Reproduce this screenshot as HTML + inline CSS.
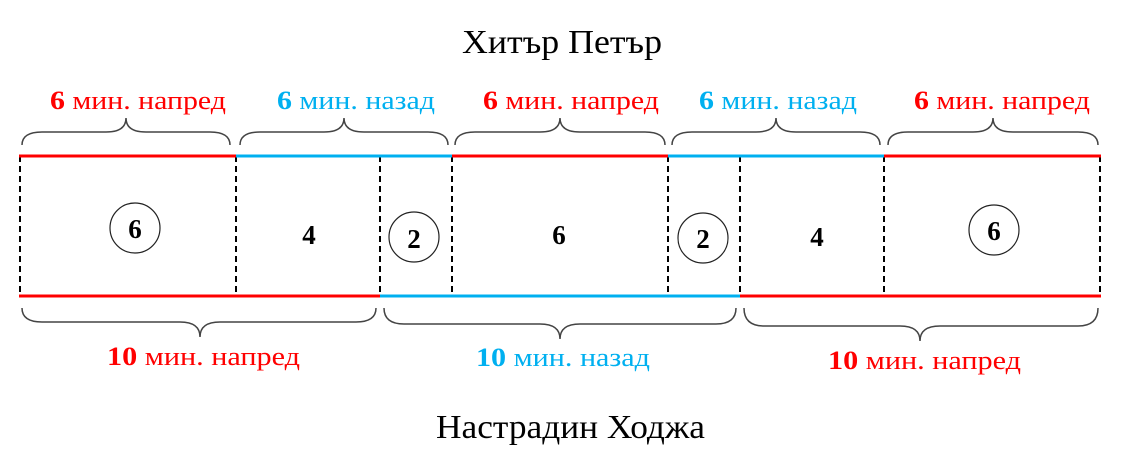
<!DOCTYPE html>
<html><head><meta charset="utf-8"><style>
body{margin:0;background:#fff}
svg{display:block}
text{font-family:"Liberation Serif",serif}
</style></head><body>
<svg width="1128" height="452" viewBox="0 0 1128 452">
<text x="462" y="53" font-size="34" textLength="200" lengthAdjust="spacingAndGlyphs" fill="#000">Хитър Петър</text>
<text x="436" y="438" font-size="34" textLength="269" lengthAdjust="spacingAndGlyphs" fill="#000">Настрадин Ходжа</text>
<g font-size="26">
<text x="50" y="109" fill="#f00" textLength="176" lengthAdjust="spacingAndGlyphs"><tspan font-weight="bold">6</tspan> мин. напред</text>
<text x="277" y="109" fill="#00b0f0" textLength="158" lengthAdjust="spacingAndGlyphs"><tspan font-weight="bold">6</tspan> мин. назад</text>
<text x="483" y="109" fill="#f00" textLength="176" lengthAdjust="spacingAndGlyphs"><tspan font-weight="bold">6</tspan> мин. напред</text>
<text x="699" y="109" fill="#00b0f0" textLength="158" lengthAdjust="spacingAndGlyphs"><tspan font-weight="bold">6</tspan> мин. назад</text>
<text x="914" y="109" fill="#f00" textLength="176" lengthAdjust="spacingAndGlyphs"><tspan font-weight="bold">6</tspan> мин. напред</text>
<text x="107" y="365" fill="#f00" textLength="193" lengthAdjust="spacingAndGlyphs"><tspan font-weight="bold">10</tspan> мин. напред</text>
<text x="476" y="366" fill="#00b0f0" textLength="174" lengthAdjust="spacingAndGlyphs"><tspan font-weight="bold">10</tspan> мин. назад</text>
<text x="828" y="369" fill="#f00" textLength="193" lengthAdjust="spacingAndGlyphs"><tspan font-weight="bold">10</tspan> мин. напред</text>
</g>
<g fill="none" stroke="#444" stroke-width="1.5">
<path d="M22,145 Q22,132 42,132 L106,132 Q126,132 126,118 Q126,132 146,132 L210,132 Q230,132 230,145"/>
<path d="M240,145 Q240,132 260,132 L324,132 Q344,132 344,118 Q344,132 364,132 L428,132 Q448,132 448,145"/>
<path d="M455,145 Q455,132 475,132 L540,132 Q560,132 560,118 Q560,132 580,132 L645,132 Q665,132 665,145"/>
<path d="M672,145 Q672,132 692,132 L756,132 Q776,132 776,118 Q776,132 796,132 L860,132 Q880,132 880,145"/>
<path d="M888,145 Q888,132 908,132 L973,132 Q993,132 993,118 Q993,132 1013,132 L1078,132 Q1098,132 1098,145"/>
<path d="M22,308 Q22,322 42,322 L180,322 Q200,322 200,337 Q200,322 220,322 L356,322 Q376,322 376,308"/>
<path d="M384,308 Q384,324 404,324 L540,324 Q560,324 560,339 Q560,324 580,324 L716,324 Q736,324 736,308"/>
<path d="M744,308 Q744,326 764,326 L900,326 Q920,326 920,341 Q920,326 940,326 L1078,326 Q1098,326 1098,308"/>
</g>
<g stroke="#000" stroke-width="2" stroke-dasharray="6,4">
<line x1="20" y1="156" x2="20" y2="296"/><line x1="236" y1="156" x2="236" y2="296"/>
<line x1="380" y1="156" x2="380" y2="296"/><line x1="452" y1="156" x2="452" y2="296"/>
<line x1="668" y1="156" x2="668" y2="296"/><line x1="740" y1="156" x2="740" y2="296"/>
<line x1="884" y1="156" x2="884" y2="296"/><line x1="1100" y1="156" x2="1100" y2="296"/>
</g>
<g stroke-width="3">
<line x1="19" y1="156" x2="236" y2="156" stroke="#f00"/>
<line x1="236" y1="156" x2="452" y2="156" stroke="#00b0f0"/>
<line x1="452" y1="156" x2="668" y2="156" stroke="#f00"/>
<line x1="668" y1="156" x2="884" y2="156" stroke="#00b0f0"/>
<line x1="884" y1="156" x2="1101" y2="156" stroke="#f00"/>
<line x1="19" y1="296" x2="380" y2="296" stroke="#f00"/>
<line x1="380" y1="296" x2="740" y2="296" stroke="#00b0f0"/>
<line x1="740" y1="296" x2="1101" y2="296" stroke="#f00"/>
</g>
<g fill="none" stroke="#222" stroke-width="1.2">
<circle cx="135" cy="228" r="25"/><circle cx="414" cy="237" r="25"/>
<circle cx="703" cy="238" r="25"/><circle cx="994" cy="230" r="25"/>
</g>
<g font-size="27" font-weight="bold" text-anchor="middle" fill="#000">
<text x="135" y="238">6</text><text x="309" y="244">4</text>
<text x="414" y="248">2</text><text x="559" y="244">6</text>
<text x="703" y="248">2</text><text x="817" y="246">4</text>
<text x="994" y="240">6</text>
</g>
</svg>
</body></html>
